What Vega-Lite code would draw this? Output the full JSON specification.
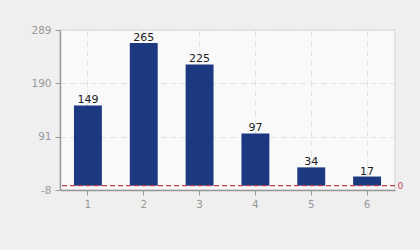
{
  "$schema": "https://vega.github.io/schema/vega-lite/v6.json",
  "width": 335,
  "height": 160,
  "autosize": {"type": "none"},
  "padding": {"left": 60, "top": 30, "right": 25, "bottom": 60},
  "background": "#efefef",
  "config": {
    "font": "DejaVu Sans",
    "view": {"fill": "#f9f9f9", "stroke": "#dddddd", "strokeWidth": 1.5},
    "axis": {"labelFont": "DejaVu Sans", "labelFontSize": 10.5, "labelColor": "#999999", "domainColor": "#999999", "tickColor": "#999999", "title": null}
  },
  "data": {"values": [
    {"x": "1", "value": 149},
    {"x": "2", "value": 265},
    {"x": "3", "value": 225},
    {"x": "4", "value": 97},
    {"x": "5", "value": 34},
    {"x": "6", "value": 17}
  ]},
  "layer": [
    {
      "layer": [
        {
          "mark": {"type": "bar", "color": "#1b3880"},
          "encoding": {
            "x": {"field": "x", "type": "ordinal", "scale": {"paddingInner": 0.5, "paddingOuter": 0.25},
                  "axis": {"labelAngle": 0, "grid": true, "gridDash": [6, 4], "gridColor": "#e2e2e2", "tickSize": 5, "labelPadding": 4, "domainWidth": 1.5, "bandPosition": 0.5}},
            "y": {"field": "value", "type": "quantitative", "scale": {"domain": [-8, 289], "nice": false, "zero": false},
                  "axis": {"values": [-8, 91, 190, 289], "labelExpr": "toString(datum.value)", "grid": true, "gridDash": [6, 4], "gridColor": "#e2e2e2", "tickSize": 5, "labelPadding": 4, "domainWidth": 1.5}},
            "y2": {"datum": 0}
          }
        },
        {
          "mark": {"type": "text", "baseline": "bottom", "dy": 0, "fontSize": 11, "color": "#222222"},
          "encoding": {
            "x": {"field": "x", "type": "ordinal"},
            "y": {"field": "value", "type": "quantitative"},
            "text": {"field": "value", "type": "quantitative"}
          }
        }
      ]
    },
    {
      "data": {"values": [{"ref": 0}]},
      "mark": {"type": "rule", "color": "#c0404f", "strokeDash": [5, 3], "strokeWidth": 1.2},
      "encoding": {
        "y": {"field": "ref", "type": "quantitative", "scale": {"domain": [-8, 289], "nice": false, "zero": false},
              "axis": {"orient": "right", "values": [0], "domain": false, "ticks": false, "grid": false, "labelColor": "#c0404f", "labelFontSize": 9, "labelPadding": 2}}
      }
    }
  ],
  "resolve": {"scale": {"y": "independent"}}
}
